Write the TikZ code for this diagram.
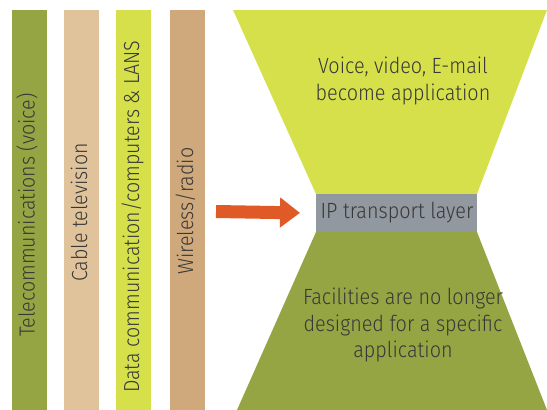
\documentclass[tikz,border=0pt]{standalone}
\usepackage{fontspec}
\setmainfont{Fira Sans Light}[FakeStretch=0.9]
\usetikzlibrary{arrows.meta}
\definecolor{olive}{HTML}{95A544}
\definecolor{sand}{HTML}{E0C39B}
\definecolor{lime}{HTML}{D5E04B}
\definecolor{tan}{HTML}{CFA97B}
\definecolor{slate}{HTML}{92989F}
\definecolor{flame}{HTML}{E05A28}
\definecolor{ink}{HTML}{383838}
\begin{document}
\begin{tikzpicture}[x=1pt,y=-1pt,
  bar/.style={minimum width=35pt,minimum height=400pt,inner sep=0pt,anchor=north west},
  bartext/.style={rotate=90,anchor=base west,inner sep=0pt,text=ink,font=\fontsize{21.8}{25}\selectfont},
  label/.style={align=center,text=ink,inner sep=0pt,font=\fontsize{22}{26.5}\selectfont}]
\useasboundingbox (0,0) rectangle (547,410);
% media columns
\node[bar,fill=olive] (b1) at (12,10) {};
\node[bar,fill=sand]  (b2) at (64,10) {};
\node[bar,fill=lime]  (b3) at (116,10) {};
\node[bar,fill=tan]   (b4) at (170,10) {};
\node[bartext] (t1) at (34.5,337) {Telecommunications (voice)};
\node[bartext] (t2) at (87,282) {Cable television};
\node[bartext] (t3) at (139,393) {Data communication/computers \& LANS};
\node[bartext] (t4) at (193,275) {Wireless/radio};
% hourglass
\fill[lime] (233,10) -- (547,10) -- (477,194) -- (316,194) -- cycle;
\fill[olive] (316,232) -- (477,232) -- (547,410) -- (237,410) -- cycle;
\node[fill=slate,minimum width=161pt,minimum height=38pt,inner sep=0pt,anchor=north west] (ip) at (316,194) {};
\node[label] (iptext) at (397,213) {IP transport layer};
\node[label] (top) at (403,81) {Voice, video, E-mail\\become application};
\node[label] (bottom) at (403,325) {Facilities are no longer\\designed for a specific\\application};
% arrow into the IP layer
\coordinate (src) at (216,211.5);
\draw[flame,line width=13pt,shorten >=16pt,-{Triangle[length=20pt,width=29pt]}] (src) -- (ip.west);
\end{tikzpicture}
\end{document}
